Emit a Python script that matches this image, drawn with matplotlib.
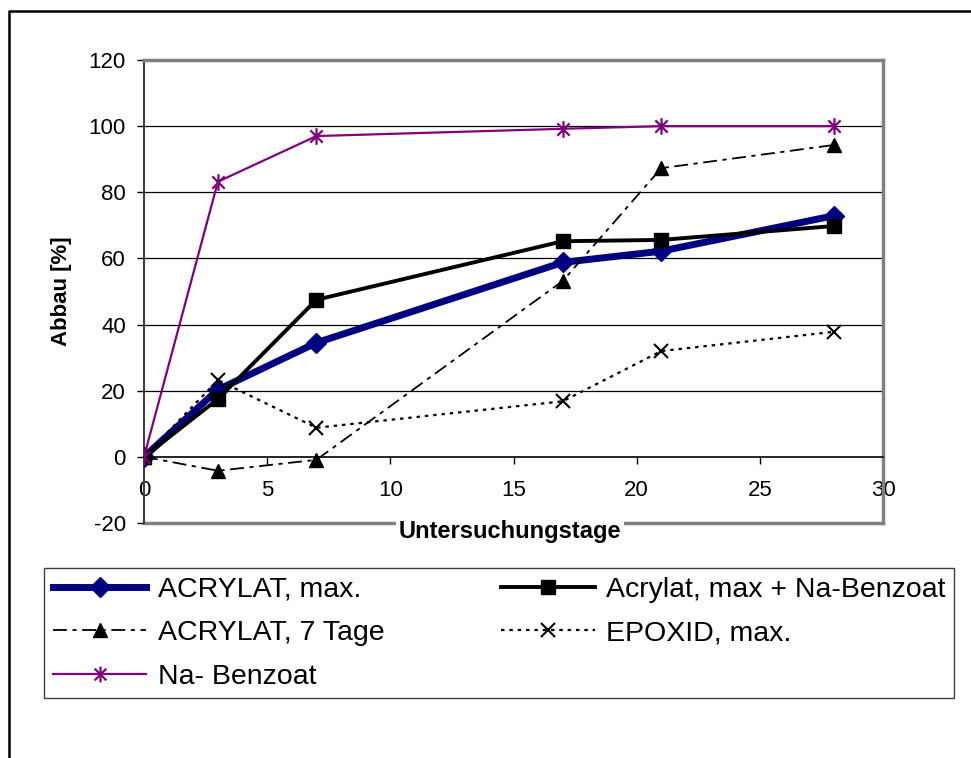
import matplotlib
matplotlib.use('Agg')
import matplotlib.pyplot as plt
from matplotlib.path import Path
from matplotlib.lines import Line2D

plt.rcParams['font.family'] = ['Liberation Sans', 'DejaVu Sans']
plt.rcParams['lines.scale_dashes'] = False
plt.rcParams['axes.unicode_minus'] = False

# Untersuchungstage und Abbau in %
days = [0, 3, 7, 17, 21, 28]
acrylat_max = [0, 20.3, 34.5, 58.8, 62.2, 72.9]
acrylat_na = [0, 17.5, 47.5, 65.2, 65.6, 69.8]
acrylat_7 = [0, -4.2, -0.9, 53.2, 87.3, 94.3]
epoxid = [0, 23.2, 8.8, 16.8, 32.0, 37.8]
na_benzoat = [0, 83.2, 97.0, 99.2, 100, 100]

x_ticks = [0, 5, 10, 15, 20, 25, 30]
y_ticks = [-20, 0, 20, 40, 60, 80, 100, 120]

# asterisk marker: X plus a vertical stroke
star = Path([(-1, -1), (1, 1), (-1, 1), (1, -1), (0, -1.35), (0, 1.35)],
            [Path.MOVETO, Path.LINETO] * 3)

W, H = 971, 758
fig = plt.figure(figsize=(W / 100, H / 100), dpi=100)
ax = fig.add_axes([144 / W, 1 - 523 / H, (883 - 144) / W, (523 - 60) / H])

l1, = ax.plot(days, acrylat_max, color='#000080', lw=5, marker='D', ms=10.5,
              label='ACRYLAT, max.', zorder=3)
l2, = ax.plot(days, acrylat_na, color='black', lw=2.8, marker='s', ms=10,
              label='Acrylat, max + Na-Benzoat', zorder=4)
l3, = ax.plot(days, acrylat_7, color='black', lw=1.3, dashes=(10, 4, 3, 4),
              marker='^', ms=10, label='ACRYLAT, 7 Tage', zorder=5)
l4, = ax.plot(days, epoxid, color='black', lw=1.6, dashes=(2.5, 3.5),
              marker='x', ms=10, mew=1.5, label='EPOXID, max.', zorder=6)
l5, = ax.plot(days, na_benzoat, color='#800080', lw=1.6, marker=star, ms=12,
              mew=1.6, label='Na- Benzoat', zorder=7)

ax.set_xlim(0, 30)
ax.set_ylim(-20, 120)
ax.set_xticks(x_ticks)
ax.set_yticks(y_ticks)

for y in y_ticks[2:-1]:
    ax.axhline(y, color='black', lw=0.9, zorder=1)
ax.axhline(-20, color='#808080', lw=2.5, clip_on=False, zorder=1)

ax.spines['bottom'].set_position(('data', 0))
ax.spines['bottom'].set_color('black')
ax.spines['bottom'].set_linewidth(1.2)
ax.spines['left'].set_color('#404040')
ax.spines['left'].set_linewidth(1.5)
for s in ('top', 'right'):
    ax.spines[s].set_color('#808080')
    ax.spines[s].set_linewidth(2.5)

ax.tick_params(axis='both', direction='out', length=5, width=1, labelsize=16)
ax.tick_params(axis='x', pad=12)
ax.tick_params(axis='y', pad=8)

ax.set_xlabel('Untersuchungstage', fontweight='bold', fontsize=17,
              bbox=dict(facecolor='white', edgecolor='none', pad=2))
ax.xaxis.set_label_coords((510 - 144) / 739, (523 - 520) / 463)
ax.set_ylabel('Abbau [%]', fontweight='bold', fontsize=16)
ax.yaxis.set_label_coords(-0.097, 0.5)

leg = fig.legend(handles=[l1, l3, l5, l2, l4], loc='upper left',
                 bbox_to_anchor=(44 / W, 1 - 699 / H, (954 - 44) / W, 131 / H),
                 mode='expand', ncol=2, borderaxespad=0, fontsize=20.5,
                 handlelength=3.3, handletextpad=0.4, labelspacing=0.62,
                 borderpad=0.3, fancybox=False, framealpha=1,
                 edgecolor='#404040', columnspacing=1.0, markerscale=0.95)
leg.get_frame().set_linewidth(1)

# outer frame (top and left edges)
fig.add_artist(Line2D([8.5 / W, 8.5 / W, 1], [0, 1 - 10.5 / H, 1 - 10.5 / H],
                      color='black', lw=1.8, transform=fig.transFigure))

fig.savefig('out.png', dpi=100)
